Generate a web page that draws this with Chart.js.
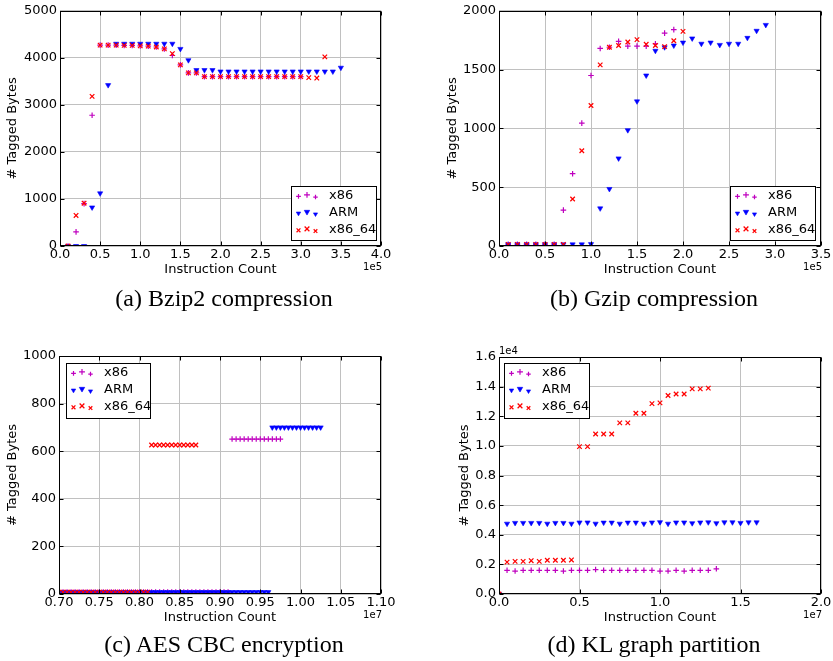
<!DOCTYPE html>
<html><head><meta charset="utf-8">
<script src="https://cdn.jsdelivr.net/npm/chart.js@4/dist/chart.umd.min.js"></script>
<style>
html,body{margin:0;padding:0;background:#fff;width:833px;height:661px;overflow:hidden;position:relative;}
canvas{position:absolute;}
.cap{position:absolute;font-family:"Liberation Serif","DejaVu Serif",serif;font-size:24px;line-height:28px;color:#000;white-space:nowrap;transform:translateX(-50%);}
</style></head><body>
<canvas id="ca" width="416" height="290" style="left:0px;top:0px"></canvas>
<canvas id="cb" width="417" height="290" style="left:416px;top:0px"></canvas>
<canvas id="cc" width="416" height="328" style="left:0px;top:310px"></canvas>
<canvas id="cd" width="417" height="328" style="left:416px;top:310px"></canvas>
<div class="cap" style="left:224px;top:284px">(a) Bzip2 compression</div>
<div class="cap" style="left:654px;top:284px">(b) Gzip compression</div>
<div class="cap" style="left:224px;top:630px">(c) AES CBC encryption</div>
<div class="cap" style="left:654px;top:630px">(d) KL graph partition</div>
<script>
// ===== DATA =====
const seriesLabels = ['x86', 'ARM', 'x86_64'];
const xTitle = 'Instruction Count';
const yTitle = '# Tagged Bytes';

// (a) Bzip2 compression — x in units of 1e5 instructions
const bzipX86X = [0.1,0.2,0.3,0.4,0.5,0.6,0.7,0.8,0.9,1.0,1.1,1.2,1.3,1.4,1.5,1.6,1.7,1.8,1.9,2.0,2.1,2.2,2.3,2.4,2.5,2.6,2.7,2.8,2.9,3.0];
const bzipX86Y = [0,300,900,2780,4270,4270,4270,4265,4265,4255,4250,4230,4190,4050,3850,3680,3680,3600,3600,3600,3600,3600,3600,3600,3600,3600,3600,3600,3600,3600];
const bzipArmX = [0.1,0.2,0.3,0.4,0.5,0.6,0.7,0.8,0.9,1.0,1.1,1.2,1.3,1.4,1.5,1.6,1.7,1.8,1.9,2.0,2.1,2.2,2.3,2.4,2.5,2.6,2.7,2.8,2.9,3.0,3.1,3.2,3.3,3.4,3.5];
const bzipArmY = [0,0,0,820,1120,3420,4300,4300,4300,4300,4300,4300,4300,4300,4190,3950,3740,3740,3740,3710,3710,3710,3710,3710,3710,3710,3710,3710,3710,3710,3710,3710,3710,3710,3790];
const bzipX64X = [0.1,0.2,0.3,0.4,0.5,0.6,0.7,0.8,0.9,1.0,1.1,1.2,1.3,1.4,1.5,1.6,1.7,1.8,1.9,2.0,2.1,2.2,2.3,2.4,2.5,2.6,2.7,2.8,2.9,3.0,3.1,3.2,3.3];
const bzipX64Y = [0,650,910,3180,4270,4270,4270,4265,4265,4255,4250,4230,4190,4090,3850,3680,3680,3600,3600,3600,3600,3600,3600,3600,3600,3600,3600,3600,3600,3600,3580,3570,4020];

// (b) Gzip compression — x in units of 1e5 instructions
const gzipX86X = [0.1,0.2,0.3,0.4,0.5,0.6,0.7,0.8,0.9,1.0,1.1,1.2,1.3,1.4,1.5,1.6,1.7,1.8,1.9];
const gzipX86Y = [14,14,14,14,14,14,305,615,1045,1450,1680,1690,1740,1700,1700,1700,1720,1810,1840];
const gzipArmX = [0.1,0.2,0.3,0.4,0.5,0.6,0.7,0.8,0.9,1.0,1.1,1.2,1.3,1.4,1.5,1.6,1.7,1.8,1.9,2.0,2.1,2.2,2.3,2.4,2.5,2.6,2.7,2.8,2.9];
const gzipArmY = [14,14,14,14,14,14,14,14,14,16,320,485,745,985,1230,1450,1660,1690,1705,1730,1765,1720,1730,1710,1720,1720,1770,1830,1880];
const gzipX64X = [0.1,0.2,0.3,0.4,0.5,0.6,0.7,0.8,0.9,1.0,1.1,1.2,1.3,1.4,1.5,1.6,1.7,1.8,1.9,2.0];
const gzipX64Y = [14,14,14,14,14,14,14,400,810,1195,1540,1690,1705,1735,1755,1715,1705,1695,1745,1825];

// (c) AES CBC encryption — x in units of 1e7 instructions
const aesX86X = [0.700,0.705,0.710,0.715,0.720,0.725,0.730,0.735,0.740,0.745,0.750,0.755,0.760,0.765,0.770,0.775,0.780,0.785,0.790,0.795,0.800,0.805,0.810,0.815,0.820,0.825,0.830,0.835,0.840,0.845,0.850,0.855,0.860,0.865,0.870,0.875,0.880,0.885,0.890,0.895,0.900,0.905,0.910,
  0.915,0.920,0.925,0.930,0.935,0.940,0.945,0.950,0.955,0.960,0.965,0.970,0.975];
const aesX86Y = [8,8,8,8,8,8,8,8,8,8,8,8,8,8,8,8,8,8,8,8,8,8,8,8,8,8,8,8,8,8,8,8,8,8,8,8,8,8,8,8,8,8,8,
  651,651,651,651,651,651,651,651,651,651,651,651,651];
const aesArmX = [0.700,0.705,0.710,0.715,0.720,0.725,0.730,0.735,0.740,0.745,0.750,0.755,0.760,0.765,0.770,0.775,0.780,0.785,0.790,0.795,0.800,0.805,0.810,0.815,0.820,0.825,0.830,0.835,0.840,0.845,0.850,0.855,0.860,0.865,0.870,0.875,0.880,0.885,0.890,0.895,0.900,0.905,0.910,0.915,0.920,0.925,0.930,0.935,0.940,0.945,0.950,0.955,0.960,
  0.965,0.970,0.975,0.980,0.985,0.990,0.995,1.000,1.005,1.010,1.015,1.020,1.025];
const aesArmY = [8,8,8,8,8,8,8,8,8,8,8,8,8,8,8,8,8,8,8,8,8,8,8,8,8,8,8,8,8,8,8,8,8,8,8,8,8,8,8,8,8,8,8,8,8,8,8,8,8,8,8,8,8,
  700,700,700,700,700,700,700,700,700,700,700,700,700];
const aesX64X = [0.700,0.705,0.710,0.715,0.720,0.725,0.730,0.735,0.740,0.745,0.750,0.755,0.760,0.765,0.770,0.775,0.780,0.785,0.790,0.795,0.800,0.805,0.810,
  0.815,0.820,0.825,0.830,0.835,0.840,0.845,0.850,0.855,0.860,0.865,0.870];
const aesX64Y = [8,8,8,8,8,8,8,8,8,8,8,8,8,8,8,8,8,8,8,8,8,8,8,
  626,626,626,626,626,626,626,626,626,626,626,626];

// (d) KL graph partition — x in units of 1e7 instructions, y in units of 1e4 bytes
const klX86X = [0,0.05,0.10,0.15,0.20,0.25,0.30,0.35,0.40,0.45,0.50,0.55,0.60,0.65,0.70,0.75,0.80,0.85,0.90,0.95,1.00,1.05,1.10,1.15,1.20,1.25,1.30,1.35];
const klX86Y = [0,0.16,0.155,0.16,0.16,0.16,0.16,0.16,0.155,0.16,0.16,0.16,0.165,0.16,0.16,0.16,0.16,0.16,0.16,0.16,0.155,0.155,0.16,0.155,0.16,0.16,0.16,0.17];
const klArmX = [0,0.05,0.10,0.15,0.20,0.25,0.30,0.35,0.40,0.45,0.50,0.55,0.60,0.65,0.70,0.75,0.80,0.85,0.90,0.95,1.00,1.05,1.10,1.15,1.20,1.25,1.30,1.35,1.40,1.45,1.50,1.55,1.60];
const klArmY = [0,0.475,0.48,0.48,0.48,0.48,0.475,0.48,0.48,0.475,0.483,0.483,0.475,0.482,0.482,0.475,0.482,0.482,0.475,0.483,0.485,0.475,0.483,0.483,0.478,0.483,0.484,0.478,0.484,0.484,0.48,0.484,0.484];
const klX64X = [0,0.05,0.10,0.15,0.20,0.25,0.30,0.35,0.40,0.45,0.50,0.55,0.60,0.65,0.70,0.75,0.80,0.85,0.90,0.95,1.00,1.05,1.10,1.15,1.20,1.25,1.30];
const klX64Y = [0,0.215,0.22,0.22,0.225,0.22,0.228,0.228,0.228,0.23,0.995,0.995,1.08,1.08,1.08,1.155,1.155,1.22,1.22,1.285,1.29,1.34,1.35,1.35,1.385,1.385,1.39];

// ===== STYLE =====
const FONT = '"DejaVu Sans", "Bitstream Vera Sans", sans-serif';
const STYLES = [
  {color:'#bf00bf', shape:'cross',    rot:0,   r:2.8, bw:1.2, order:3},
  {color:'#0000ff', shape:'triangle', rot:180, r:3.0, bw:0.6, order:2},
  {color:'#ff0000', shape:'crossRot', rot:0,   r:3.2, bw:1.25, order:1}
];

function drawMarker(ctx, st, x, y, r) {
  ctx.save();
  ctx.strokeStyle = st.color; ctx.fillStyle = st.color; ctx.lineWidth = st.bw;
  ctx.beginPath();
  if (st.shape === 'cross') {
    ctx.moveTo(x - r, y); ctx.lineTo(x + r, y); ctx.moveTo(x, y - r); ctx.lineTo(x, y + r);
    ctx.stroke();
  } else if (st.shape === 'crossRot') {
    const d = r * 0.7071;
    ctx.moveTo(x - d, y - d); ctx.lineTo(x + d, y + d); ctx.moveTo(x - d, y + d); ctx.lineTo(x + d, y - d);
    ctx.stroke();
  } else {
    const h = r * 0.866;
    ctx.moveTo(x - h, y - r / 2); ctx.lineTo(x + h, y - r / 2); ctx.lineTo(x, y + r); ctx.closePath();
    ctx.fill(); ctx.stroke();
  }
  ctx.restore();
}

const framePlugin = {
  id: 'mplFrame',
  afterDatasetsDraw(chart) {
    const {ctx, chartArea: a, scales: {x, y}} = chart;
    const L = 4;
    const l = Math.round(a.left) + 0.5, r = Math.round(a.right) - 0.5, t = Math.round(a.top) + 0.5, b = Math.round(a.bottom) - 0.5;
    ctx.save();
    ctx.strokeStyle = '#000'; ctx.lineWidth = 1;
    ctx.beginPath();
    x.ticks.forEach(tk => {
      const px = Math.round(x.getPixelForValue(tk.value)) + 0.5;
      ctx.moveTo(px, b); ctx.lineTo(px, b - L);
      ctx.moveTo(px, t); ctx.lineTo(px, t + L);
    });
    y.ticks.forEach(tk => {
      const py = Math.round(y.getPixelForValue(tk.value)) + 0.5;
      ctx.moveTo(l, py); ctx.lineTo(l + L, py);
      ctx.moveTo(r, py); ctx.lineTo(r - L, py);
    });
    ctx.stroke();
    ctx.strokeRect(l, t, r - l, b - t);
    ctx.restore();
  }
};

function legendPlugin(L) {
  return {
    id: 'mplLegend',
    afterDraw(chart) {
      const {ctx, chartArea: a} = chart;
      const bx = Math.round(L.corner === 'br' ? a.right - L.dx - L.w : a.left + L.dx);
      const by = Math.round(L.corner === 'br' ? a.bottom - L.dy - L.h : a.top + L.dy);
      ctx.save();
      ctx.fillStyle = '#fff'; ctx.fillRect(bx, by, L.w, L.h);
      ctx.strokeStyle = '#000'; ctx.lineWidth = 1; ctx.strokeRect(bx + 0.5, by + 0.5, L.w, L.h);
      const mxs = [7.5, 16, 24.5], myo = [0.8, -0.6, 1.6], msc = [0.85, 1.05, 0.8];
      chart.data.datasets.forEach((ds, i) => {
        const ry = by + 9.5 + i * 17;
        mxs.forEach((dx, k) => drawMarker(ctx, STYLES[i], bx + dx, ry + myo[k], STYLES[i].r * msc[k]));
        ctx.fillStyle = '#000'; ctx.font = '13px ' + FONT; ctx.textAlign = 'left'; ctx.textBaseline = 'middle';
        ctx.fillText(ds.label, bx + 38, ry);
      });
      ctx.restore();
    }
  };
}

function expPlugin(E) {
  return {
    id: 'mplExp',
    afterDraw(chart) {
      const {ctx, chartArea: a} = chart;
      ctx.save();
      ctx.font = '10px ' + FONT; ctx.fillStyle = '#000'; ctx.textBaseline = 'middle';
      if (E.x) { ctx.textAlign = 'right'; ctx.fillText(E.x, a.right + 1, a.bottom + 21); }
      if (E.y) { ctx.textAlign = 'left'; ctx.fillText(E.y, a.left, a.top - 6); }
      ctx.restore();
    }
  };
}

function build(id, series, o) {
  const datasets = series.map((s, i) => ({
    label: seriesLabels[i],
    data: s[0].map((xv, j) => ({x: xv, y: s[1][j]})),
    showLine: false,
    pointStyle: STYLES[i].shape,
    pointRotation: STYLES[i].rot,
    pointRadius: STYLES[i].r,
    pointHoverRadius: STYLES[i].r,
    pointBorderWidth: STYLES[i].bw,
    pointBorderColor: STYLES[i].color,
    pointBackgroundColor: STYLES[i].color,
    borderColor: STYLES[i].color,
    backgroundColor: STYLES[i].color,
    order: STYLES[i].order,
    clip: 0
  }));
  const tickFont = {family: FONT, size: 13};
  return new Chart(document.getElementById(id), {
    type: 'scatter',
    data: {datasets},
    options: {
      responsive: false, animation: false, devicePixelRatio: 1, events: [],
      layout: {padding: {left: 0, top: o.padTop, right: o.padRight, bottom: 0}},
      plugins: {legend: {display: false}, tooltip: {enabled: false}},
      scales: {
        x: {
          type: 'linear', position: 'bottom', min: o.x[0], max: o.x[1],
          afterFit: s => { s.height = 44; },
          ticks: {stepSize: o.x[2], padding: 1, maxRotation: 0, autoSkip: false, color: '#000', font: tickFont,
                  callback: v => Number(v).toFixed(o.x[3])},
          grid: {color: '#c0c0c0', lineWidth: 1, drawTicks: false},
          border: {display: false},
          title: {display: true, text: xTitle, color: '#000', font: tickFont, padding: {top: 0, bottom: 13}}
        },
        y: {
          type: 'linear', position: 'left', min: o.y[0], max: o.y[1],
          afterFit: s => { s.width = o.yw; },
          ticks: {stepSize: o.y[2], padding: 3, autoSkip: false, color: '#000', font: tickFont,
                  callback: v => Number(v).toFixed(o.y[3])},
          grid: {color: '#c0c0c0', lineWidth: 1, drawTicks: false},
          border: {display: false},
          title: {display: true, text: yTitle, color: '#000', font: tickFont, padding: {top: o.ytp, bottom: 0}}
        }
      }
    },
    plugins: [framePlugin, legendPlugin(o.legend), expPlugin(o.exp)]
  });
}

build('ca', [[bzipX86X, bzipX86Y], [bzipArmX, bzipArmY], [bzipX64X, bzipX64Y]], {
  padTop: 9, padRight: 35, yw: 60, ytp: 5,
  x: [0, 4, 0.5, 1], y: [0, 5000, 1000, 0],
  legend: {corner: 'br', dx: 5, dy: 6, w: 85, h: 54}, exp: {x: '1e5'}
});
build('cb', [[gzipX86X, gzipX86Y], [gzipArmX, gzipArmY], [gzipX64X, gzipX64Y]], {
  padTop: 9, padRight: 12, yw: 83, ytp: 29,
  x: [0, 3.5, 0.5, 1], y: [0, 2000, 500, 0],
  legend: {corner: 'br', dx: 6, dy: 6, w: 85, h: 54}, exp: {x: '1e5'}
});
build('cc', [[aesX86X, aesX86Y], [aesArmX, aesArmY], [aesX64X, aesX64Y]], {
  padTop: 46, padRight: 35, yw: 59, ytp: 5,
  x: [0.7, 1.1, 0.05, 2], y: [0, 1000, 200, 0],
  legend: {corner: 'tl', dx: 7, dy: 7, w: 84, h: 55}, exp: {x: '1e7'}
});
build('cd', [[klX86X, klX86Y], [klArmX, klArmY], [klX64X, klX64Y]], {
  padTop: 47, padRight: 12, yw: 83, ytp: 41,
  x: [0, 2, 0.5, 1], y: [0, 1.6, 0.2, 1],
  legend: {corner: 'tl', dx: 5, dy: 6, w: 85, h: 55}, exp: {x: '1e7', y: '1e4'}
});
</script>
</body></html>
